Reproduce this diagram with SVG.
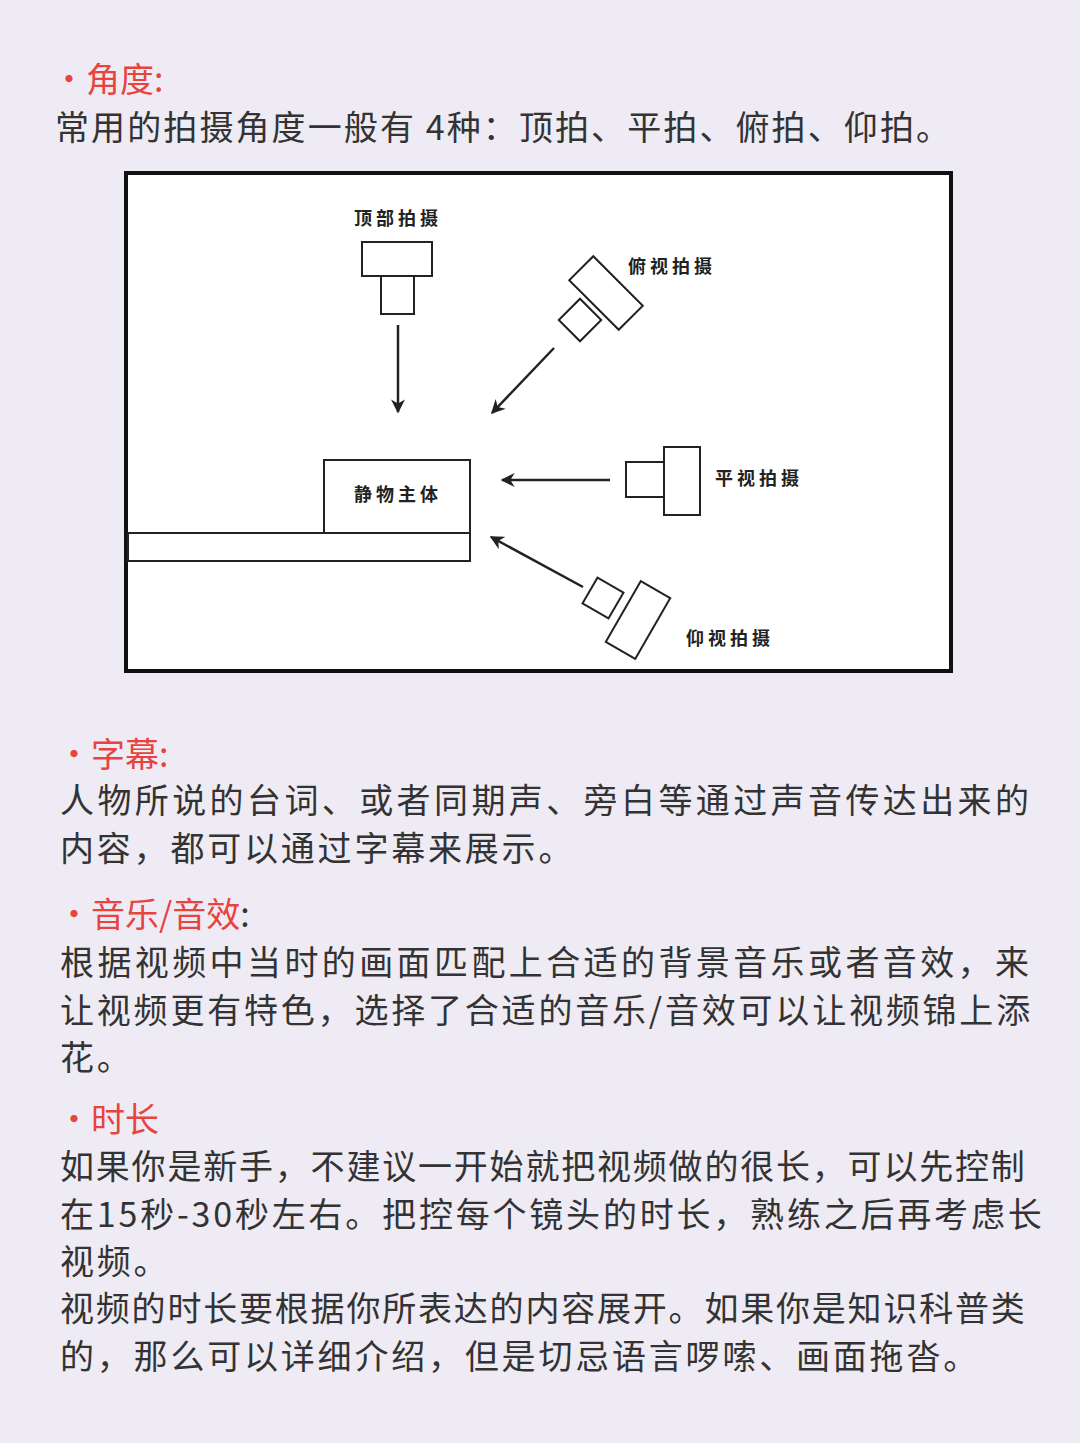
<svg xmlns="http://www.w3.org/2000/svg" width="1080" height="1443" viewBox="0 0 1080 1443">
<defs>
<style>
.t{font-family:"Noto Sans CJK SC","Noto Sans",sans-serif;font-size:34px;fill:#333;letter-spacing:2.8px}
.n{letter-spacing:1.8px}
.h{font-family:"Noto Sans CJK SC","Noto Sans",sans-serif;font-size:34px;fill:#e8433f}
.l{font-family:"Noto Sans CJK SC",sans-serif;font-size:18px;fill:#222;font-weight:bold;letter-spacing:4px}
.s{fill:#fff;stroke:#222;stroke-width:2}
.a{stroke:#222;stroke-width:2.5;fill:none;marker-end:url(#ar)}
</style>
<marker id="ar" viewBox="0 0 10 10" refX="9" refY="5" markerWidth="14" markerHeight="14" orient="auto" markerUnits="userSpaceOnUse">
<path d="M0,0 L10,5 L0,10 L3,5 Z" fill="#222"/>
</marker>
</defs>
<rect width="1080" height="1443" fill="#efebf4"/>
<text x="52" y="92" class="h">·角度:</text>
<text x="55" y="140" class="t" style="letter-spacing:2.1px">常用的拍摄角度一般有 4种：顶拍、平拍、俯拍、仰拍。</text>
<g id="frame"><rect x="126" y="173" width="825" height="498" fill="#fff" stroke="#111" stroke-width="4"/></g>
<g id="top"><rect x="362" y="242" width="70" height="34" class="s"/><rect x="381" y="276" width="33" height="38" class="s"/><text x="354" y="225" class="l">顶部拍摄</text></g>
<g id="high"><g transform="translate(606,293) rotate(45)"><rect x="-35" y="-17" width="70" height="34" class="s"/></g><g transform="translate(580,320) rotate(45)"><rect x="-15" y="-15" width="30" height="30" class="s"/></g><text x="628" y="273" class="l">俯视拍摄</text></g>
<g id="flat"><rect x="664" y="447" width="36" height="68" class="s"/><rect x="626" y="462" width="38" height="35" class="s"/><text x="715" y="485" class="l">平视拍摄</text></g>
<g id="low"><g transform="translate(638,620) rotate(-60)"><rect x="-35" y="-17" width="70" height="34" class="s"/></g><g transform="translate(603,598) rotate(-60)"><rect x="-15" y="-15" width="30" height="30" class="s"/></g><text x="686" y="645" class="l">仰视拍摄</text></g>
<g id="subject"><rect x="324" y="460" width="146" height="73" class="s"/><rect x="128" y="533" width="342" height="28" class="s"/><text x="354" y="501" class="l">静物主体</text></g>
<g id="connectors">
<line x1="398" y1="325" x2="398" y2="412" class="a"/>
<line x1="554" y1="348" x2="492" y2="413" class="a"/>
<line x1="610" y1="480" x2="502" y2="480" class="a"/>
<line x1="583" y1="587" x2="491" y2="537" class="a"/>
</g>
<text x="57" y="767" class="h">·字幕:</text>
<text x="60" y="813" class="t" style="letter-spacing:3.4px">人物所说的台词、或者同期声、旁白等通过声音传达出来的</text>
<text x="60" y="861" class="t">内容，都可以通过字幕来展示。</text>
<text x="57" y="927" class="h">·音乐/音效<tspan fill="#333">:</tspan></text>
<text x="60" y="975" class="t" style="letter-spacing:3.4px">根据视频中当时的画面匹配上合适的背景音乐或者音效，来</text>
<text x="60" y="1023" class="t">让视频更有特色，选择了合适的音乐/音效可以让视频锦上添</text>
<text x="60" y="1070" class="t">花。</text>
<text x="57" y="1132" class="h">·时长</text>
<text x="60" y="1179" class="t n">如果你是新手，不建议一开始就把视频做的很长，可以先控制</text>
<text x="60" y="1227" class="t">在15秒-30秒左右。把控每个镜头的时长，熟练之后再考虑长</text>
<text x="60" y="1274" class="t">视频。</text>
<text x="60" y="1321" class="t n">视频的时长要根据你所表达的内容展开。如果你是知识科普类</text>
<text x="60" y="1369" class="t">的，那么可以详细介绍，但是切忌语言啰嗦、画面拖沓。</text>
</svg>
